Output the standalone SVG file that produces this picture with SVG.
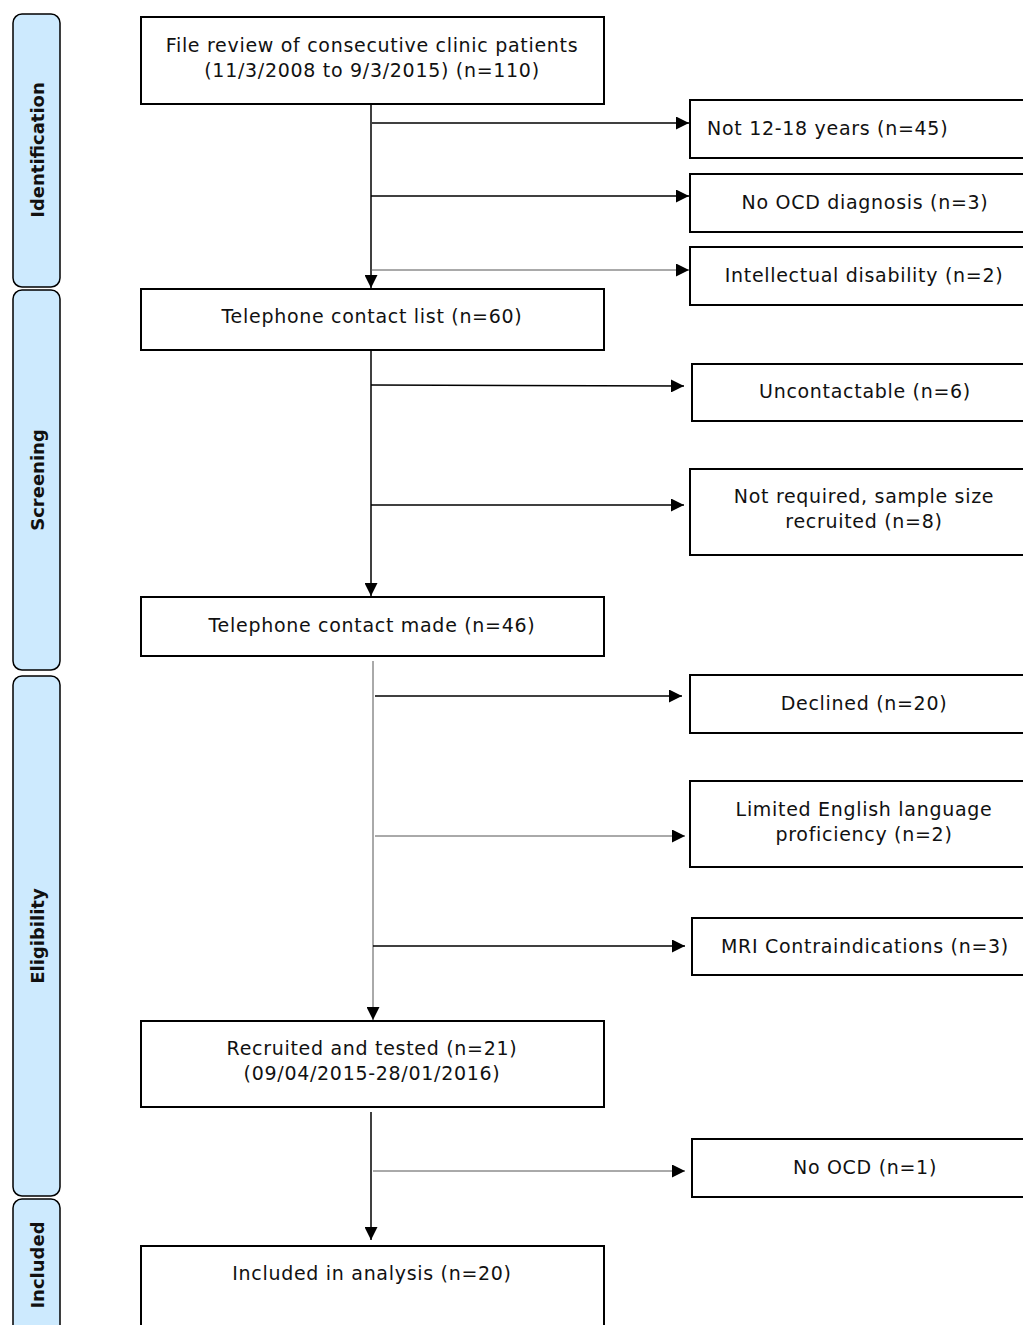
<svg xmlns="http://www.w3.org/2000/svg" width="1023" height="1325" viewBox="0 0 1023 1325">
<style>
.bg{fill:#ffffff}
.lane{fill:#cdeafe;stroke:#000;stroke-width:1.5}
.lt{font-family:"DejaVu Sans","Liberation Sans",sans-serif;font-weight:bold;font-size:18px;fill:#111;text-anchor:middle}
.box{fill:#fff;stroke:#000;stroke-width:2}
.t{font-family:"DejaVu Sans","Liberation Sans",sans-serif;font-size:19px;letter-spacing:0.7px;fill:#111;text-anchor:middle}
.c{stroke:#000;stroke-width:1.5;fill:none}
.cg{stroke:#555;stroke-width:1;fill:none}
</style>
<defs>
<marker id="ah" viewBox="0 0 10 10" refX="10" refY="5" markerWidth="13" markerHeight="13" markerUnits="userSpaceOnUse" orient="auto">
<path d="M0,0 L10,5 L0,10 z" fill="#000"/>
</marker>
</defs>
<rect class="bg" x="0" y="0" width="1023" height="1325"/>

<g id="lane-identification">
<rect class="lane" x="13" y="14" width="47" height="273" rx="9"/>
<text class="lt" transform="translate(44,150) rotate(-90)">Identification</text>
</g>
<g id="lane-screening">
<rect class="lane" x="13" y="290" width="47" height="380" rx="9"/>
<text class="lt" transform="translate(44,480) rotate(-90)">Screening</text>
</g>
<g id="lane-eligibility">
<rect class="lane" x="13" y="676" width="47" height="520" rx="9"/>
<text class="lt" transform="translate(44,936) rotate(-90)">Eligibility</text>
</g>
<g id="lane-included">
<rect class="lane" x="13" y="1199" width="47" height="150" rx="9"/>
<text class="lt" transform="translate(44,1265) rotate(-90)">Included</text>
</g>

<g id="connectors">
<line class="c" x1="371" y1="104" x2="371" y2="288" marker-end="url(#ah)"/>
<line class="c" x1="372" y1="123" x2="689" y2="123" marker-end="url(#ah)"/>
<line class="c" x1="371" y1="196" x2="689" y2="196" marker-end="url(#ah)"/>
<line class="cg" x1="371" y1="270" x2="689" y2="270" marker-end="url(#ah)"/>
<line class="c" x1="371" y1="350" x2="371" y2="596" marker-end="url(#ah)"/>
<line class="c" x1="371" y1="385" x2="684" y2="386" marker-end="url(#ah)"/>
<line class="c" x1="371" y1="505" x2="684" y2="505" marker-end="url(#ah)"/>
<line class="cg" x1="373" y1="661" x2="373" y2="1020" marker-end="url(#ah)"/>
<line class="c" x1="375" y1="696" x2="682" y2="696" marker-end="url(#ah)"/>
<line class="cg" x1="375" y1="836" x2="685" y2="836" marker-end="url(#ah)"/>
<line class="c" x1="373" y1="946" x2="685" y2="946" marker-end="url(#ah)"/>
<line class="c" x1="371" y1="1112" x2="371" y2="1240" marker-end="url(#ah)"/>
<line class="cg" x1="373" y1="1171" x2="685" y2="1171" marker-end="url(#ah)"/>
</g>

<g id="file-review">
<rect class="box" x="141" y="17" width="463" height="87"/>
<text class="t" x="372" y="52">File review of consecutive clinic patients</text>
<text class="t" x="372" y="77">(11/3/2008 to 9/3/2015) (n=110)</text>
</g>
<g id="telephone-list">
<rect class="box" x="141" y="289" width="463" height="61"/>
<text class="t" x="372" y="323">Telephone contact list (n=60)</text>
</g>
<g id="telephone-made">
<rect class="box" x="141" y="597" width="463" height="59"/>
<text class="t" x="372" y="632">Telephone contact made (n=46)</text>
</g>
<g id="recruited">
<rect class="box" x="141" y="1021" width="463" height="86"/>
<text class="t" x="372" y="1055">Recruited and tested (n=21)</text>
<text class="t" x="372" y="1080">(09/04/2015-28/01/2016)</text>
</g>
<g id="included">
<rect class="box" x="141" y="1246" width="463" height="100"/>
<text class="t" x="372" y="1280">Included in analysis (n=20)</text>
</g>

<g id="not-12-18">
<rect class="box" x="690" y="100" width="345" height="58"/>
<text class="t" x="707" y="135" style="text-anchor:start">Not 12-18 years (n=45)</text>
</g>
<g id="no-ocd-diagnosis">
<rect class="box" x="690" y="174" width="345" height="58"/>
<text class="t" x="865" y="209">No OCD diagnosis (n=3)</text>
</g>
<g id="intellectual-disability">
<rect class="box" x="690" y="247" width="345" height="58"/>
<text class="t" x="864" y="282">Intellectual disability (n=2)</text>
</g>
<g id="uncontactable">
<rect class="box" x="692" y="364" width="345" height="57"/>
<text class="t" x="865" y="398">Uncontactable (n=6)</text>
</g>
<g id="not-required">
<rect class="box" x="690" y="469" width="345" height="86"/>
<text class="t" x="864" y="503">Not required, sample size</text>
<text class="t" x="864" y="528">recruited (n=8)</text>
</g>
<g id="declined">
<rect class="box" x="690" y="675" width="345" height="58"/>
<text class="t" x="864" y="710">Declined (n=20)</text>
</g>
<g id="limited-english">
<rect class="box" x="690" y="781" width="345" height="86"/>
<text class="t" x="864" y="816">Limited English language</text>
<text class="t" x="864" y="841">proficiency (n=2)</text>
</g>
<g id="mri">
<rect class="box" x="692" y="918" width="345" height="57"/>
<text class="t" x="865" y="953">MRI Contraindications (n=3)</text>
</g>
<g id="no-ocd">
<rect class="box" x="692" y="1139" width="345" height="58"/>
<text class="t" x="865" y="1174">No OCD (n=1)</text>
</g>
</svg>
